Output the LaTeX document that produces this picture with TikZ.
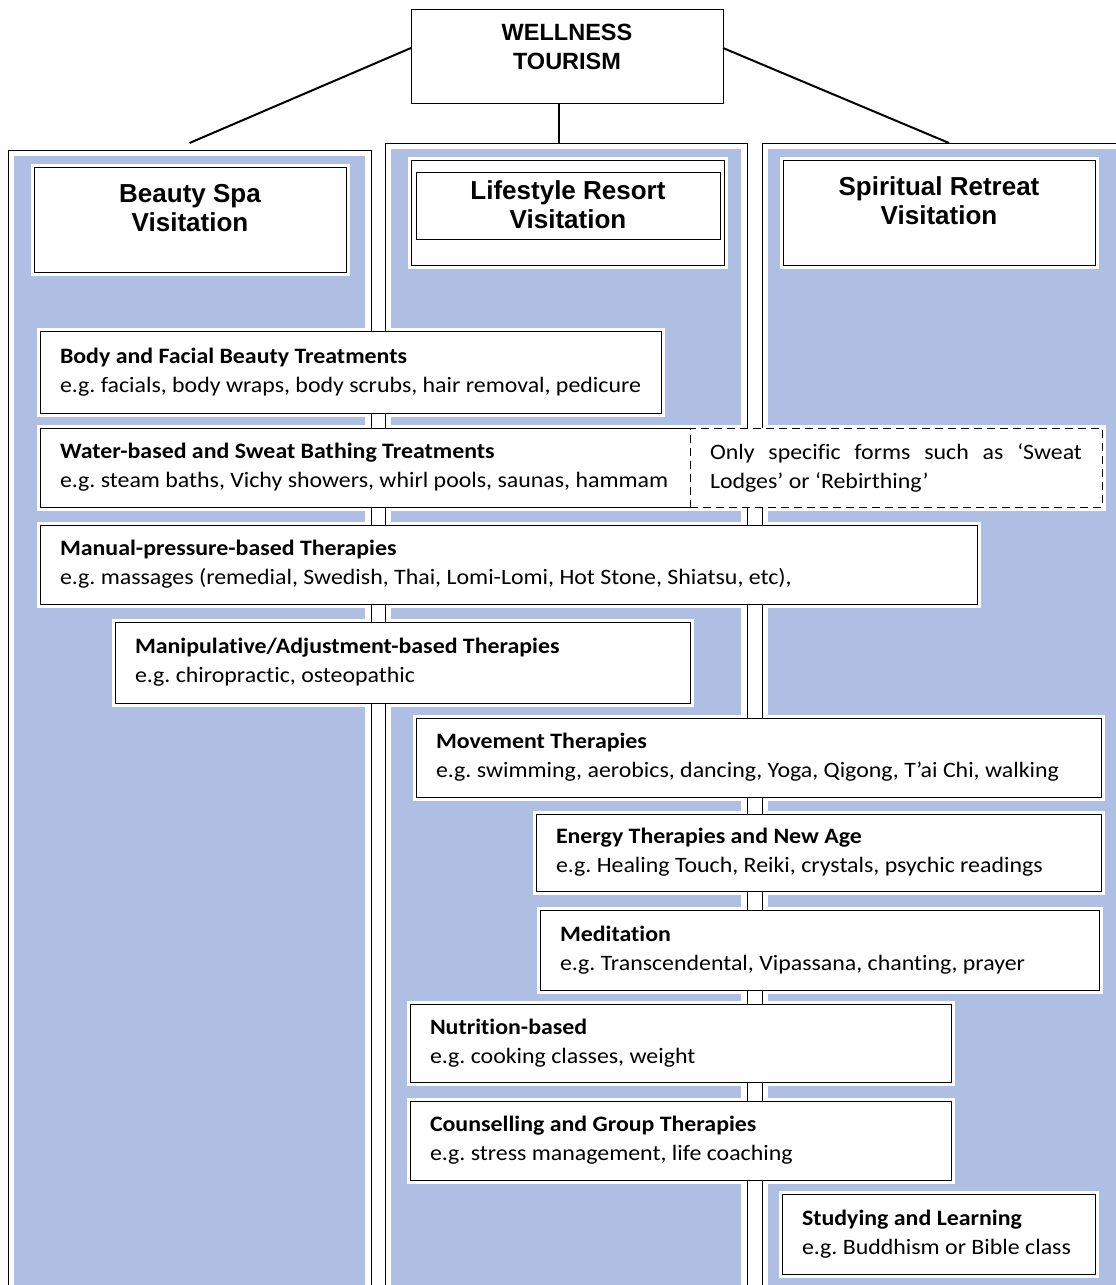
\documentclass[tikz,border=0pt]{standalone}
\usepackage{fontspec}
\setmainfont{Carlito}[FakeStretch=1.085,Ligatures=NoCommon]
\newfontfamily\headfont{Liberation Sans}
\definecolor{panelblue}{RGB}{175,191,227}
\pgfdeclarelayer{bg}
\pgfdeclarelayer{halo}
\pgfdeclarelayer{frame}
\pgfsetlayers{bg,halo,frame,main}
\frenchspacing
% two-line therapy entry: bold title, example line
\newcommand\entrytext[3]{\parbox{\dimexpr#1pt-40pt\relax}{\raggedright
  \fontsize{22}{29}\selectfont\textbf{#2}\\#3}}
% header text, top aligned in a box of fixed size
\newcommand\headtext[5]{\parbox[c][#2pt][t]{#1pt}{\centering\headfont\bfseries
  \fontsize{#3}{29}\selectfont\vspace*{#4pt}#5\par}}
\begin{document}
\begin{tikzpicture}[x=1pt,y=-1pt,line width=2pt,
  box/.style={draw,fill=white,inner sep=0pt,outer sep=0pt,anchor=north west},
  column/.style={draw=none,inner sep=0pt,outer sep=0pt,anchor=north west,minimum height=1160},
  link/.style={line width=2pt}]
\useasboundingbox (0,0) rectangle (1116,1285);

% columns of the three visitation types
\begin{pgfonlayer}{bg}
  \node[column,minimum width=363] (col1) at (8,150) {};
  \node[column,minimum width=362] (col2) at (385,143) {};
  \node[column,minimum width=374] (col3) at (762,143) {};
  \foreach \c in {col1,col2,col3}
    \fill[panelblue] ([shift={(6,6)}]\c.north west) rectangle ([shift={(-6,-6)}]\c.south east);
\end{pgfonlayer}
\begin{pgfonlayer}{frame}
  \foreach \c in {col1,col2,col3}
    \draw (\c.north west) rectangle (\c.south east);
\end{pgfonlayer}

% top of the hierarchy
\node[box,minimum width=312,minimum height=94] (wt) at (411,9)
  {\headtext{312}{94}{23.5}{15}{WELLNESS\\TOURISM}};

% visitation headers
\node[box,minimum width=312,minimum height=105] (bs) at (34,167)
  {\headtext{312}{105}{26}{17}{Beauty Spa\\Visitation}};
\node[box,minimum width=313,minimum height=105] (lr) at (411,160) {};
\node[box,minimum width=304,minimum height=67] (lri) at (416,172)
  {\headtext{304}{67}{26}{9}{Lifestyle Resort\\Visitation}};
\node[box,minimum width=312,minimum height=105] (sr) at (783,160)
  {\headtext{312}{105}{26}{17}{Spiritual Retreat\\Visitation}};

% therapy boxes
\node[box,minimum width=621,minimum height=82] (body) at (40,331)
  {\entrytext{621}{Body and Facial Beauty Treatments}{e.g. facials, body wraps, body scrubs, hair removal, pedicure}};
\node[box,minimum width=650,minimum height=79] (water) at (40,428)
  {\entrytext{650}{Water-based and Sweat Bathing Treatments}{e.g. steam baths, Vichy showers, whirl pools, saunas, hammam}};
\node[box,dash pattern=on 8pt off 5pt,preaction={draw=white},minimum width=412,minimum height=79] (sweat) at (690,428)
  {\parbox{372pt}{\fontsize{22}{29}\selectfont Only specific forms such as ‘Sweat Lodges’ or ‘Rebirthing’}};
\node[box,minimum width=937,minimum height=79] (manual) at (40,525)
  {\entrytext{937}{Manual-pressure-based Therapies}{e.g. massages (remedial, Swedish, Thai, Lomi-Lomi, Hot Stone, Shiatsu, etc),}};
\node[box,minimum width=575,minimum height=81] (manip) at (115,622)
  {\entrytext{575}{Manipulative/Adjustment-based Therapies}{e.g. chiropractic, osteopathic}};
\node[box,minimum width=685,minimum height=79] (move) at (416,718)
  {\entrytext{685}{Movement Therapies}{e.g. swimming, aerobics, dancing, Yoga, Qigong, T’ai Chi, walking}};
\node[box,minimum width=565,minimum height=77] (energy) at (536,814)
  {\entrytext{565}{Energy Therapies and New Age}{e.g. Healing Touch, Reiki, crystals, psychic readings}};
\node[box,minimum width=559,minimum height=80] (medit) at (540,910)
  {\entrytext{559}{Meditation}{e.g. Transcendental, Vipassana, chanting, prayer}};
\node[box,minimum width=541,minimum height=78] (nutri) at (410,1004)
  {\entrytext{541}{Nutrition-based}{e.g. cooking classes, weight}};
\node[box,minimum width=541,minimum height=79] (couns) at (410,1101)
  {\entrytext{541}{Counselling and Group Therapies}{e.g. stress management, life coaching}};
\node[box,minimum width=313,minimum height=80] (study) at (782,1194)
  {\entrytext{313}{Studying and Learning}{e.g. Buddhism or Bible class}};

% white glow round the boxes that sit on the blue panels
\begin{pgfonlayer}{halo}
  \foreach \n in {bs,lr,sr,body,water,sweat,manual,manip,move,energy,medit,nutri,couns,study}
    \draw[white,line width=7pt] (\n.north west) rectangle (\n.south east);
\end{pgfonlayer}

% links from the top box to the three columns
\draw[link] ([yshift=8]wt.west) -- ([yshift=7]col1.north);
\draw[link] ([xshift=-8]wt.south) -- ([xshift=-7]col2.north);
\draw[link] ([yshift=8]wt.east) -- (col3.north);
\end{tikzpicture}
\end{document}
